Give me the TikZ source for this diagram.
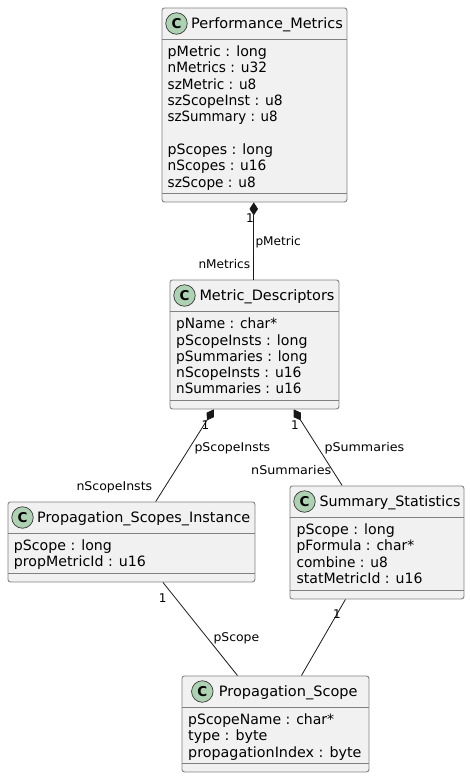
\documentclass[tikz,border=0pt]{standalone}
\usepackage{fontspec}
\usepackage{graphicx}
\setmainfont{DejaVu Sans}
\usetikzlibrary{arrows.meta,calc}
\definecolor{boxfill}{HTML}{F1F1F1}
\definecolor{ink}{HTML}{181818}
\definecolor{spot}{HTML}{ADD1B2}
\tikzset{
  x=1pt,y=-1pt,
  classbox/.style={draw=ink!55,line width=0.9pt,fill=boxfill,rounded corners=2.5pt,inner sep=0pt,anchor=north west},
  sepline/.style={draw=ink!55,line width=0.9pt},
  spotc/.style={circle,draw=ink!85,line width=0.7pt,fill=spot,minimum size=21.5pt,inner sep=0pt,font=\fontsize{13.5}{13.5}\selectfont\bfseries},
  title/.style={anchor=base west,inner sep=0pt,font=\fontsize{14.3}{14}\selectfont,text=black},
  member/.style={anchor=base west,inner sep=0pt,font=\fontsize{14.2}{14}\selectfont,text=black},
  lab/.style={anchor=base west,inner sep=0pt,font=\fontsize{12}{12}\selectfont,text=black},
  link/.style={draw=ink,line width=0.8pt},
  comp/.style={link,{Diamond[length=13pt,width=8.5pt,fill=ink]}-}
}
\newcommand{\fitw}[2]{\resizebox{#1pt}{\height}{#2}}
\newcommand{\classbox}[8]{%
  \node[classbox,minimum width=#4pt,minimum height=#5pt] (#1) at (#2,#3) {};
  \coordinate (#1h) at ($(#1.north west)+(0,-#6pt)$);
  \coordinate (#1f) at ($(#1.north west)+(0,-#7pt)$);
  \draw[sepline] (#1h) -- (#1h -| #1.east);
  \draw[sepline] (#1f) -- (#1f -| #1.east);
  #8
}
\begin{document}
\begin{tikzpicture}
\useasboundingbox (0,0) rectangle (469,777);
\classbox{pm}{161.5}{7.5}{185}{194}{31.5}{185.5}{
  \node[spotc] (pmc) at (176.5,23.5) {C};
  \node[title] (pmt) at (191,28) {\fitw{151.7}{Performance\_Metrics}};
  \node[member] (pm1) at (167.5,56) {\fitw{99.3}{pMetric : long}};
  \node[member] (pm2) at (167.5,72) {\fitw{99.3}{nMetrics : u32}};
  \node[member] (pm3) at (167.5,89) {\fitw{88.7}{szMetric : u8}};
  \node[member] (pm4) at (167.5,105) {\fitw{115}{szScopeInst : u8}};
  \node[member] (pm5) at (167.5,121) {\fitw{110}{szSummary : u8}};
  \node[member] (pm6) at (167.5,154) {\fitw{105.3}{pScopes : long}};
  \node[member] (pm7) at (167.5,170) {\fitw{98.7}{nScopes : u16}};
  \node[member] (pm8) at (167.5,187) {\fitw{88}{szScope : u8}};
}
\classbox{md}{169.5}{279.5}{169}{129}{32}{120.5}{
  \node[spotc] (mdc) at (184.5,295.5) {C};
  \node[title] (mdt) at (199.3,300) {\fitw{135}{Metric\_Descriptors}};
  \node[member] (md1) at (176,328) {\fitw{101}{pName : char*}};
  \node[member] (md2) at (176,345) {\fitw{131.3}{pScopeInsts : long}};
  \node[member] (md3) at (176,361) {\fitw{131.3}{pSummaries : long}};
  \node[member] (md4) at (176,377) {\fitw{125.3}{nScopeInsts : u16}};
  \node[member] (md5) at (176,393) {\fitw{125.3}{nSummaries : u16}};
}
\classbox{psi}{7.5}{501.5}{247}{80}{32}{72}{
  \node[spotc] (psic) at (22.5,517.5) {C};
  \node[title] (psit) at (37,522) {\fitw{213}{Propagation\_Scopes\_Instance}};
  \node[member] (psi1) at (13.7,550) {\fitw{98}{pScope : long}};
  \node[member] (psi2) at (13.7,566) {\fitw{132}{propMetricId : u16}};
}
\classbox{ss}{289.5}{485.5}{174}{113}{32}{104.5}{
  \node[spotc] (ssc) at (304.5,501.5) {C};
  \node[title] (sst) at (319.3,506) {\fitw{141}{Summary\_Statistics}};
  \node[member] (ss1) at (296.3,534) {\fitw{98.3}{pScope : long}};
  \node[member] (ss2) at (296.3,550) {\fitw{117.7}{pFormula : char*}};
  \node[member] (ss3) at (296.3,567) {\fitw{91.3}{combine : u8}};
  \node[member] (ss4) at (296.3,583) {\fitw{126}{statMetricId : u16}};
}
\classbox{ps}{181.5}{675.5}{187}{96}{32}{88}{
  \node[spotc] (psc) at (202.3,691.5) {C};
  \node[title] (pst) at (218.7,696) {\fitw{138.7}{Propagation\_Scope}};
  \node[member] (ps1) at (188,724) {\fitw{146}{pScopeName : char*}};
  \node[member] (ps2) at (188,740) {\fitw{79.3}{type : byte}};
  \node[member] (ps3) at (188,757) {\fitw{173.3}{propagationIndex : byte}};
}
\draw[comp] ([xshift=-0.7pt]pm.south) -- ([xshift=-0.7pt]pm.south |- md.north);
\draw[comp] ([xshift=-40.7pt]md.south) -- ([xshift=24.3pt]psi.north);
\draw[comp] ([xshift=39.3pt]md.south) -- ([xshift=-34.8pt]ss.north);
\draw[link] ([xshift=31.5pt]psi.south) -- ([xshift=-38pt]ps.north);
\draw[link] ([xshift=-31.5pt]ss.south) -- ([xshift=26pt]ps.north);
\node[lab] (l1) at (246,222) {1};
\node[lab] (l2) at (255.3,245) {\fitw{45.4}{pMetric}};
\node[lab] (l3) at (198.3,268) {\fitw{51.7}{nMetrics}};
\node[lab] (l4) at (201.3,429) {1};
\node[lab] (l5) at (194.3,451) {\fitw{75.7}{pScopeInsts}};
\node[lab] (l6) at (76.3,490) {\fitw{75.7}{nScopeInsts}};
\node[lab] (l7) at (291,429) {1};
\node[lab] (l8) at (324.3,451) {\fitw{79.7}{pSummaries}};
\node[lab] (l9) at (251,474) {\fitw{80}{nSummaries}};
\node[lab] (l10) at (158.7,602) {1};
\node[lab] (l11) at (213.3,641) {\fitw{45.7}{pScope}};
\node[lab] (l12) at (333,618) {1};
\end{tikzpicture}
\end{document}
